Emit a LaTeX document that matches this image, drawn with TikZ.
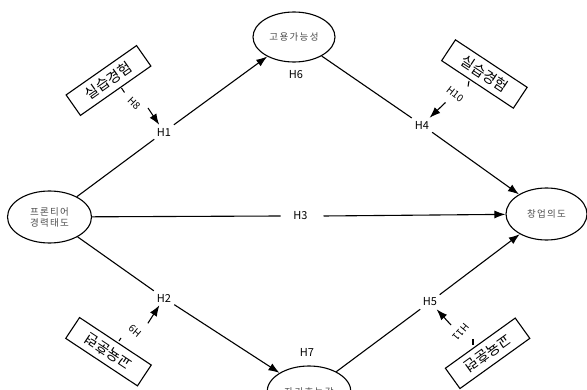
\documentclass[tikz,border=0pt]{standalone}
\usepackage{fontspec}
\setmainfont{Noto Sans CJK KR}
\usetikzlibrary{shapes.geometric,arrows.meta}
\begin{document}
\begin{tikzpicture}[x=1pt,y=-1pt,
  ell/.style={draw,line width=1.1pt,ellipse,inner sep=0pt,text=black!70,
    font=\fontsize{9.5}{11}\selectfont\addfontfeature{LetterSpace=14},align=center},
  hyp/.style={inner sep=3pt,font=\fontsize{11}{13}\selectfont},
  modbox/.style={draw,line width=1.1pt,minimum width=86pt,minimum height=25pt,
    inner sep=0pt,font=\fontsize{14.5}{16}\selectfont},
  ln/.style={line width=1.1pt},
  arr/.style={line width=1.1pt,-{Latex[length=11pt,width=8pt]}},
  hl/.style={inner sep=0pt,font=\fontsize{10}{12}\selectfont}]
\useasboundingbox (0,0) rectangle (587,390);
% main constructs
\node[ell,minimum width=84pt,minimum height=52pt] (A) at (49.5,217) {프론티어\\경력태도};
\node[ell,minimum width=82pt,minimum height=50pt] (T) at (294,37) {고용가능성};
\node[ell,minimum width=81pt,minimum height=52pt] (R) at (546.5,214) {창업의도};
\node[ell,minimum width=84pt,minimum height=52pt] (B) at (309,392) {자기효능감};
% hypothesis labels
\node[hyp] (H1) at (164,132) {H1};
\node[hyp] (H2) at (164,298) {H2};
\node[hyp,inner sep=0pt] (H3) at (300.5,216) {H3};
\node[hyp] (H4) at (422,125) {H4};
\node[hyp] (H5) at (430,302) {H5};
\node[hyp] (H6) at (296,75) {H6};
\node[hyp] (H7) at (307,352) {H7};
% paths
\draw[ln] (A) -- (H1);
\draw[arr] (H1) -- (T);
\draw[ln] (T) -- (H4);
\draw[arr] (H4) -- (R);
\draw[ln] (A) -- ([xshift=-20pt]H3.center);
\draw[arr] ([xshift=23pt]H3.center) -- (R);
\draw[ln] (A) -- (H2);
\draw[arr] (H2) -- (B);
\draw[ln] (B) -- (H5);
\draw[arr] (H5) -- (R);
% moderators
\node[modbox,rotate=35] (M1) at (108.5,80.5) {실습경험};
\node[modbox,rotate=-33.5] (M2) at (484.4,74) {실습경험};
\node[modbox,rotate=146.5] (M3) at (108.5,351.7) {교육훈련};
\node[modbox,rotate=215.7] (M4) at (487.6,353.3) {교육훈련};
% moderator ticks, labels and arrows
\coordinate (t1a) at (121.5,88); \coordinate (t1b) at (124.5,92.5);
\draw[ln] (t1a) -- (t1b);
\node[hl,rotate=-45] (L8) at (134,103) {H8};
\coordinate (a8) at (148,108);
\draw[arr] (a8) -- (H1);
\coordinate (t2a) at (469,81); \coordinate (t2b) at (468,86.5);
\draw[ln] (t2a) -- (t2b);
\node[hl,rotate=-38] (L10) at (455,94) {H10};
\coordinate (a10) at (445.5,102.5);
\draw[arr] (a10) -- (H4);
\coordinate (t3a) at (119,341); \coordinate (t3b) at (121,338);
\draw[ln] (t3a) -- (t3b);
\node[hl,rotate=140] (L9) at (135,331) {H9};
\coordinate (a9) at (147.9,323.3);
\draw[arr] (a9) -- (H2);
\coordinate (t4a) at (473,339); \coordinate (t4b) at (473,345);
\draw[ln] (t4a) -- (t4b);
\node[hl,rotate=230] (L11) at (461,332) {H11};
\coordinate (a11) at (451,325);
\draw[arr] (a11) -- (H5);
\end{tikzpicture}
\end{document}
